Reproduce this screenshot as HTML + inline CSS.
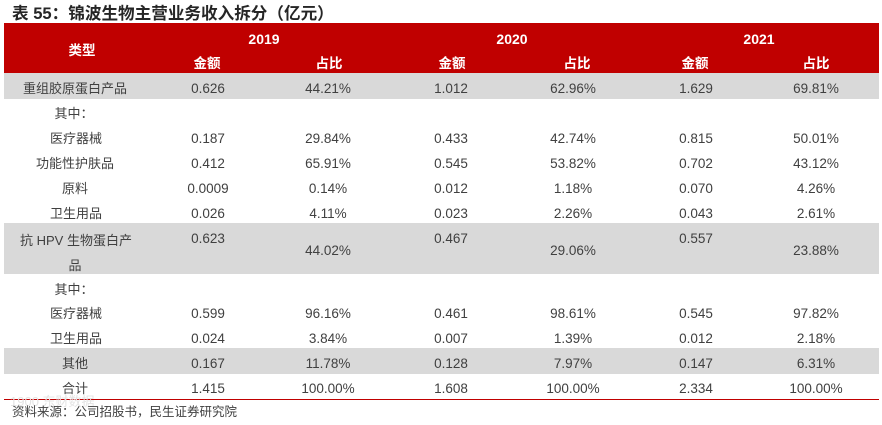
<!DOCTYPE html>
<html>
<head>
<meta charset="utf-8">
<style>
  html,body{margin:0;padding:0;background:#fff;}
  body{width:882px;height:425px;position:relative;overflow:hidden;
       font-family:"Liberation Sans","Noto Sans CJK SC",sans-serif;color:#404040;}
  .bg{position:absolute;}
  .c{position:absolute;width:140px;margin-left:-70px;text-align:center;height:20px;line-height:20px;margin-top:-10px;white-space:nowrap;font-size:13.5px;}
  .h{color:#fff;font-weight:bold;font-size:13.5px;}
  .t{font-size:13px;}
</style>
</head>
<body>
<div style="position:absolute;left:12px;top:4px;font-size:16.6px;font-weight:bold;color:#262626;line-height:20px;white-space:nowrap;">表 55：锦波生物主营业务收入拆分（亿元）</div>

<div class="bg" style="left:4px;top:23px;width:875px;height:50px;background:#c00000;"></div>
<div class="bg" style="left:4px;top:73px;width:875px;height:25.5px;background:#d9d9d9;"></div>
<div class="bg" style="left:4px;top:223px;width:875px;height:51px;background:#d9d9d9;"></div>
<div class="bg" style="left:4px;top:348px;width:875px;height:26px;background:#d9d9d9;"></div>
<div class="bg" style="left:4px;top:398.5px;width:875px;height:1.6px;background:#c00000;"></div>

<!-- header -->
<div class="c h" style="left:82px;top:51px;">类型</div>
<div class="c h" style="left:264px;top:39px;font-size:14px;">2019</div>
<div class="c h" style="left:512px;top:39px;font-size:14px;">2020</div>
<div class="c h" style="left:759px;top:39px;font-size:14px;">2021</div>
<div class="c h" style="left:207px;top:64px;">金额</div>
<div class="c h" style="left:329px;top:64px;">占比</div>
<div class="c h" style="left:452px;top:64px;">金额</div>
<div class="c h" style="left:577px;top:64px;">占比</div>
<div class="c h" style="left:695px;top:64px;">金额</div>
<div class="c h" style="left:816px;top:64px;">占比</div>

<!-- row 1 -->
<div class="c t" style="left:75px;top:88.5px;">重组胶原蛋白产品</div>
<div class="c" style="left:208px;top:88.5px;">0.626</div>
<div class="c" style="left:328px;top:88.5px;">44.21%</div>
<div class="c" style="left:451px;top:88.5px;">1.012</div>
<div class="c" style="left:573px;top:88.5px;">62.96%</div>
<div class="c" style="left:696px;top:88.5px;">1.629</div>
<div class="c" style="left:816px;top:88.5px;">69.81%</div>

<!-- row 2 -->
<div class="c t" style="left:74px;top:114px;">其中：</div>

<!-- row 3 -->
<div class="c t" style="left:76px;top:139px;">医疗器械</div>
<div class="c" style="left:208px;top:139px;">0.187</div>
<div class="c" style="left:328px;top:139px;">29.84%</div>
<div class="c" style="left:451px;top:139px;">0.433</div>
<div class="c" style="left:573px;top:139px;">42.74%</div>
<div class="c" style="left:696px;top:139px;">0.815</div>
<div class="c" style="left:816px;top:139px;">50.01%</div>

<!-- row 4 -->
<div class="c t" style="left:75px;top:164px;">功能性护肤品</div>
<div class="c" style="left:208px;top:164px;">0.412</div>
<div class="c" style="left:328px;top:164px;">65.91%</div>
<div class="c" style="left:451px;top:164px;">0.545</div>
<div class="c" style="left:573px;top:164px;">53.82%</div>
<div class="c" style="left:696px;top:164px;">0.702</div>
<div class="c" style="left:816px;top:164px;">43.12%</div>

<!-- row 5 -->
<div class="c t" style="left:75px;top:189px;">原料</div>
<div class="c" style="left:208px;top:189px;">0.0009</div>
<div class="c" style="left:328px;top:189px;">0.14%</div>
<div class="c" style="left:451px;top:189px;">0.012</div>
<div class="c" style="left:573px;top:189px;">1.18%</div>
<div class="c" style="left:696px;top:189px;">0.070</div>
<div class="c" style="left:816px;top:189px;">4.26%</div>

<!-- row 6 -->
<div class="c t" style="left:76px;top:213.5px;">卫生用品</div>
<div class="c" style="left:208px;top:213.5px;">0.026</div>
<div class="c" style="left:328px;top:213.5px;">4.11%</div>
<div class="c" style="left:451px;top:213.5px;">0.023</div>
<div class="c" style="left:573px;top:213.5px;">2.26%</div>
<div class="c" style="left:696px;top:213.5px;">0.043</div>
<div class="c" style="left:816px;top:213.5px;">2.61%</div>

<!-- row 7 HPV -->
<div class="c t" style="left:76px;top:240.5px;">抗 HPV 生物蛋白产</div>
<div class="c t" style="left:75px;top:266px;">品</div>
<div class="c" style="left:208px;top:239px;">0.623</div>
<div class="c" style="left:328px;top:251px;">44.02%</div>
<div class="c" style="left:451px;top:239px;">0.467</div>
<div class="c" style="left:573px;top:251px;">29.06%</div>
<div class="c" style="left:696px;top:239px;">0.557</div>
<div class="c" style="left:816px;top:251px;">23.88%</div>

<!-- row 8 -->
<div class="c t" style="left:74px;top:289.5px;">其中：</div>

<!-- row 9 -->
<div class="c t" style="left:76px;top:314px;">医疗器械</div>
<div class="c" style="left:208px;top:314px;">0.599</div>
<div class="c" style="left:328px;top:314px;">96.16%</div>
<div class="c" style="left:451px;top:314px;">0.461</div>
<div class="c" style="left:573px;top:314px;">98.61%</div>
<div class="c" style="left:696px;top:314px;">0.545</div>
<div class="c" style="left:816px;top:314px;">97.82%</div>

<!-- row 10 -->
<div class="c t" style="left:76px;top:339px;">卫生用品</div>
<div class="c" style="left:208px;top:339px;">0.024</div>
<div class="c" style="left:328px;top:339px;">3.84%</div>
<div class="c" style="left:451px;top:339px;">0.007</div>
<div class="c" style="left:573px;top:339px;">1.39%</div>
<div class="c" style="left:696px;top:339px;">0.012</div>
<div class="c" style="left:816px;top:339px;">2.18%</div>

<!-- row 11 -->
<div class="c t" style="left:75px;top:363.5px;">其他</div>
<div class="c" style="left:208px;top:363.5px;">0.167</div>
<div class="c" style="left:328px;top:363.5px;">11.78%</div>
<div class="c" style="left:451px;top:363.5px;">0.128</div>
<div class="c" style="left:573px;top:363.5px;">7.97%</div>
<div class="c" style="left:696px;top:363.5px;">0.147</div>
<div class="c" style="left:816px;top:363.5px;">6.31%</div>

<!-- row 12 -->
<div class="c t" style="left:75px;top:389px;">合计</div>
<div class="c" style="left:208px;top:389px;">1.415</div>
<div class="c" style="left:328px;top:389px;">100.00%</div>
<div class="c" style="left:451px;top:389px;">1.608</div>
<div class="c" style="left:573px;top:389px;">100.00%</div>
<div class="c" style="left:696px;top:389px;">2.334</div>
<div class="c" style="left:816px;top:389px;">100.00%</div>

<!-- watermark -->
<div style="position:absolute;left:10px;top:394px;font-size:13px;color:#e4e4e4;line-height:16px;white-space:nowrap;">1900 东财数据</div>

<!-- source -->
<div style="position:absolute;left:12px;top:403px;font-size:12.5px;color:#404040;line-height:18px;white-space:nowrap;">资料来源：公司招股书，民生证券研究院</div>
</body>
</html>
